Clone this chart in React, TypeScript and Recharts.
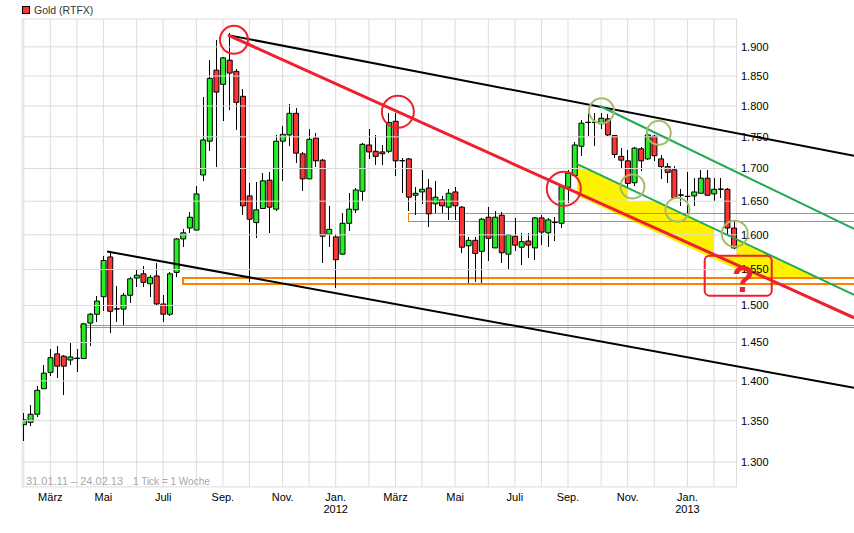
import React from 'react';
import { ComposedChart, Bar, Cell, Line, Area, XAxis, YAxis, CartesianGrid, Legend, ReferenceLine, ReferenceArea, ReferenceDot } from 'recharts';

const FONT = '"Liberation Sans", Arial, sans-serif';
const GRID = '#dcdcdc';
const UP = '#22f022';
const DOWN = '#ff3333';
const RED = '#ee2030';
const SAGE = '#a2bd68';
const LINEGREEN = '#22a955';
const ORANGE = '#ff8000';

const opens = [1.345,1.348,1.358,1.390,1.411,1.435,1.432,1.427,1.429,1.429,1.476,1.488,1.512,1.568,1.495,1.495,1.514,1.538,1.544,1.530,1.541,1.502,1.488,1.546,1.594,1.610,1.607,1.690,1.743,1.860,1.836,1.877,1.858,1.816,1.658,1.618,1.639,1.682,1.638,1.743,1.753,1.788,1.723,1.684,1.748,1.713,1.601,1.597,1.572,1.617,1.637,1.665,1.737,1.727,1.726,1.727,1.775,1.712,1.715,1.659,1.664,1.670,1.646,1.652,1.641,1.664,1.641,1.584,1.592,1.576,1.626,1.581,1.629,1.572,1.598,1.582,1.591,1.581,1.625,1.603,1.618,1.617,1.671,1.689,1.735,1.773,1.773,1.771,1.779,1.752,1.719,1.712,1.678,1.731,1.715,1.751,1.715,1.703,1.698,1.659,1.657,1.658,1.662,1.685,1.661,1.668,1.668,1.610];
const closes = [1.351,1.358,1.388,1.410,1.430,1.419,1.419,1.431,1.4295,1.475,1.488,1.506,1.563,1.492,1.4955,1.514,1.537,1.542,1.532,1.539,1.502,1.488,1.544,1.594,1.603,1.626,1.661,1.745,1.846,1.823,1.881,1.855,1.806,1.643,1.623,1.637,1.681,1.641,1.743,1.754,1.788,1.724,1.684,1.746,1.712,1.598,1.608,1.564,1.617,1.638,1.667,1.738,1.726,1.719,1.723,1.773,1.712,1.7125,1.656,1.662,1.668,1.631,1.656,1.643,1.662,1.643,1.582,1.592,1.573,1.623,1.595,1.626,1.574,1.600,1.585,1.590,1.585,1.625,1.604,1.622,1.6185,1.672,1.693,1.737,1.772,1.7735,1.7735,1.780,1.753,1.722,1.713,1.677,1.732,1.712,1.753,1.720,1.703,1.694,1.655,1.6595,1.6575,1.664,1.685,1.659,1.668,1.6685,1.610,1.581];
const highs = [1.360,1.370,1.394,1.420,1.442,1.446,1.433,1.450,1.442,1.476,1.490,1.513,1.570,1.577,1.527,1.517,1.539,1.551,1.555,1.543,1.560,1.514,1.546,1.596,1.609,1.634,1.673,1.815,1.878,1.912,1.883,1.924,1.862,1.828,1.678,1.679,1.693,1.695,1.753,1.768,1.804,1.797,1.726,1.763,1.756,1.715,1.643,1.601,1.632,1.663,1.670,1.740,1.762,1.753,1.737,1.788,1.789,1.716,1.716,1.671,1.698,1.684,1.681,1.658,1.668,1.671,1.643,1.597,1.597,1.625,1.641,1.636,1.634,1.600,1.625,1.603,1.603,1.626,1.630,1.625,1.626,1.675,1.698,1.742,1.777,1.789,1.789,1.789,1.787,1.753,1.732,1.729,1.733,1.734,1.756,1.753,1.721,1.708,1.704,1.669,1.694,1.685,1.698,1.698,1.685,1.685,1.670,1.620];
const lows = [1.325,1.344,1.355,1.390,1.406,1.404,1.382,1.420,1.411,1.429,1.445,1.478,1.493,1.463,1.478,1.474,1.504,1.525,1.526,1.511,1.499,1.478,1.486,1.540,1.582,1.603,1.607,1.681,1.728,1.703,1.775,1.793,1.761,1.629,1.533,1.596,1.639,1.603,1.636,1.681,1.736,1.709,1.666,1.684,1.702,1.560,1.583,1.524,1.571,1.605,1.633,1.650,1.715,1.705,1.705,1.725,1.688,1.663,1.635,1.629,1.645,1.612,1.632,1.632,1.622,1.622,1.573,1.531,1.533,1.531,1.562,1.581,1.559,1.549,1.576,1.556,1.566,1.563,1.585,1.582,1.591,1.610,1.648,1.689,1.720,1.751,1.736,1.763,1.751,1.716,1.699,1.672,1.673,1.696,1.714,1.712,1.684,1.677,1.653,1.642,1.633,1.642,1.662,1.659,1.651,1.655,1.598,1.579];

const priceTicks = [1.9,1.85,1.8,1.75,1.7,1.65,1.6,1.55,1.5,1.45,1.4,1.35,1.3];
const monthTicks = [0,4,8,12,17,21,26,30,34,39,43,47,52,56,60,65,70,74,78,82,87,91,95,100,104,107.4];
const monthLabels: Record<number,string[]> = {4:['März'],12:['Mai'],21:['Juli'],30:['Sep.'],39:['Nov.'],47:['Jan.','2012'],56:['März'],65:['Mai'],74:['Juli'],82:['Sep.'],91:['Nov.'],100:['Jan.','2013']};

const X_MIN = -0.27, X_MAX = 125.1, GRID_END = 107.4;
const Y_MIN = 1.2706, Y_MAX = 1.949;

// annotation trend lines: [week, price]
const upperBlack = [[30.77,1.9205],[125.1,1.7199]];
const lowerBlack = [[12.55,1.5759],[125.1,1.3913]];
const redTrend = [[30.77,1.9205],[125.1,1.4832]];
const greenUpper = [[86.8,1.800],[125.1,1.6089]];
const greenLower = [[83.33,1.7073],[125.1,1.5147]];
// yellow band: week, upper price, lower price
const bandWeeks = [83.33,91,91,94.92,104,104,107.43,107.43,110.14,119.63];
const bandTop = [1.7073,1.6701,1.6495,1.6505,1.6092,1.5696,1.5696,1.5932,1.5809,1.5384];
const bandBottom = [1.6586,1.6231,1.6231,1.6053,1.5650,1.5650,1.5500,1.5500,1.5384,1.5384];
// marker circles: week, price, radius
const redCircles = [[31.67,1.9122,14],[56.37,1.7904,16],[81.37,1.6687,17]];
const sageCircles = [[87.05,1.7921,12.5],[95.68,1.7564,12],[91.72,1.6722,12],[98.49,1.6370,12],[107.13,1.6016,13]];
// orange support boxes: first week, top price, bottom price
const orangeBoxes = [[8.5,1.4728,1.4706,1],[24,1.5384,1.5291,2],[57.9,1.6321,1.6202,1]];

const rows = opens.map((o,i)=>({
  i,
  wick:[lows[i],highs[i]],
  body:[Math.min(o,closes[i]),Math.max(o,closes[i])],
  color: Math.abs(closes[i]-o)<0.0015 ? '#000' : closes[i]>o ? UP : DOWN,
}));
const band = bandWeeks.map((w,k)=>({i:w,band:[bandBottom[k],bandTop[k]]}));
const pts = (a:number[][]) => a.map(p=>({i:p[0],v:p[1]}));

const MonthTick = (p:any) => {
  const lines = monthLabels[p.payload.value];
  if(!lines) return <g/>;
  return <text x={p.x} y={p.y} textAnchor="middle" fontFamily={FONT} fontSize={11} fill="#000">
    {lines.map((t,k)=><tspan key={k} x={p.x} dy={k===0?6:12}>{t}</tspan>)}
  </text>;
};

const LegendBox = (p:any) => {
  const it = (p.payload||[]).find((e:any)=>e.value==='Gold (RTFX)');
  return <div style={{height:19,display:'flex',alignItems:'flex-start',fontFamily:FONT,fontSize:10.5,color:'#333',lineHeight:'20px',textAlign:'left'}}>
    <span style={{display:'inline-block',width:6,height:6,marginTop:6,background:DOWN,border:'1px solid #000'}}/>
    <span style={{marginLeft:4}}>{it?it.value:''}</span>
  </div>;
};

export default function App(){
  return <div style={{position:'absolute',left:0,top:0,width:854,height:533,background:'#fff'}}>
    <ComposedChart width={854} height={533} data={rows} margin={{top:0,right:0,bottom:0,left:22}} style={{fontFamily:FONT}}>
      <XAxis dataKey="i" type="number" domain={[X_MIN,X_MAX]} allowDataOverflow ticks={monthTicks} interval={0} height={46} axisLine={false} tickLine={false} tick={<MonthTick/>}/>
      <XAxis xAxisId="wick" dataKey="i" type="number" domain={[X_MIN,X_MAX]} allowDataOverflow ticks={monthTicks} hide/>
      <XAxis xAxisId="overlay" dataKey="i" type="number" domain={[X_MIN,X_MAX]} allowDataOverflow ticks={monthTicks} hide/>
      <YAxis scale="log" type="number" domain={[Y_MIN,Y_MAX]} allowDataOverflow ticks={priceTicks} interval={0} orientation="left" mirror axisLine={false} tickLine={false} tickSize={0} tickMargin={719} tick={{fill:'#000',fontSize:11,fontFamily:FONT}} tickFormatter={(v:number)=>v.toFixed(3)}/>
      <Legend verticalAlign="top" align="left" content={<LegendBox/>}/>

      <Area xAxisId="overlay" data={band} dataKey="band" type="linear" stroke="none" fill="#fff200" fillOpacity={1} legendType="none" isAnimationActive={false} dot={false} activeDot={false}/>

      <CartesianGrid horizontal={false} vertical stroke={GRID} strokeWidth={1} syncWithTicks/>
      {priceTicks.map(p=><ReferenceLine key={p} stroke={GRID} strokeWidth={1} segment={[{x:X_MIN,y:p},{x:GRID_END,y:p}]}/>)}
      <ReferenceLine stroke={GRID} segment={[{x:X_MIN,y:Y_MAX-0.0001},{x:GRID_END,y:Y_MAX-0.0001}]}/>
      <ReferenceLine stroke={GRID} segment={[{x:X_MIN,y:Y_MIN+0.0001},{x:GRID_END,y:Y_MIN+0.0001}]}/>
      <ReferenceLine stroke={GRID} segment={[{x:X_MIN+0.02,y:Y_MIN},{x:X_MIN+0.02,y:Y_MAX}]}/>

      <Bar xAxisId="wick" dataKey="wick" barSize={1} fill="#000" legendType="none" isAnimationActive={false} shapeRendering="crispEdges"/>
      <Bar dataKey="body" name="Gold (RTFX)" barSize={5} fill={DOWN} stroke="#000" strokeWidth={1} isAnimationActive={false}>
        {rows.map(r=><Cell key={r.i} fill={r.color}/>)}
      </Bar>

      {orangeBoxes.map((b,k)=><ReferenceArea key={k} x1={b[0]} x2={X_MAX+1} y1={b[2]} y2={b[1]} fill="none" stroke={ORANGE} strokeWidth={b[3]} ifOverflow="visible" shapeRendering="crispEdges"/>)}

      <Line xAxisId="overlay" data={pts(upperBlack)} dataKey="v" stroke="#000" strokeWidth={2} dot={false} activeDot={false} legendType="none" isAnimationActive={false}/>
      <Line xAxisId="overlay" data={pts(lowerBlack)} dataKey="v" stroke="#000" strokeWidth={2} dot={false} activeDot={false} legendType="none" isAnimationActive={false}/>
      <Line xAxisId="overlay" data={pts(greenUpper)} dataKey="v" stroke={LINEGREEN} strokeWidth={2} dot={false} activeDot={false} legendType="none" isAnimationActive={false}/>
      <Line xAxisId="overlay" data={pts(greenLower)} dataKey="v" stroke={LINEGREEN} strokeWidth={2} dot={false} activeDot={false} legendType="none" isAnimationActive={false}/>
      <Line xAxisId="overlay" data={pts(redTrend)} dataKey="v" stroke={RED} strokeWidth={3} dot={false} activeDot={false} legendType="none" isAnimationActive={false}/>

      {redCircles.map((c,k)=><ReferenceDot key={k} x={c[0]} y={c[1]} r={c[2]} fill="none" stroke={RED} strokeWidth={2}/>)}
      {sageCircles.map((c,k)=><ReferenceDot key={k} x={c[0]} y={c[1]} r={c[2]} fill="none" stroke={SAGE} strokeWidth={2}/>)}

      <ReferenceArea x1={102.6} x2={112.7} y1={1.5133} y2={1.5696} fill="none" stroke={RED} strokeWidth={2} radius={5} label={{value:'?',position:'center',fill:RED,fontSize:36,fontWeight:'bold',fontFamily:FONT,dx:5,dy:3}}/>
      <text fontFamily={FONT} fill="#a8a8a8" y={485}>
        <tspan x={26} fontSize={11}>{'31.01.11 – 24.02.13'}</tspan>
        <tspan x={133} fontSize={10}>{'1 Tick = 1 Woche'}</tspan>
      </text>
    </ComposedChart>
  </div>;
}
